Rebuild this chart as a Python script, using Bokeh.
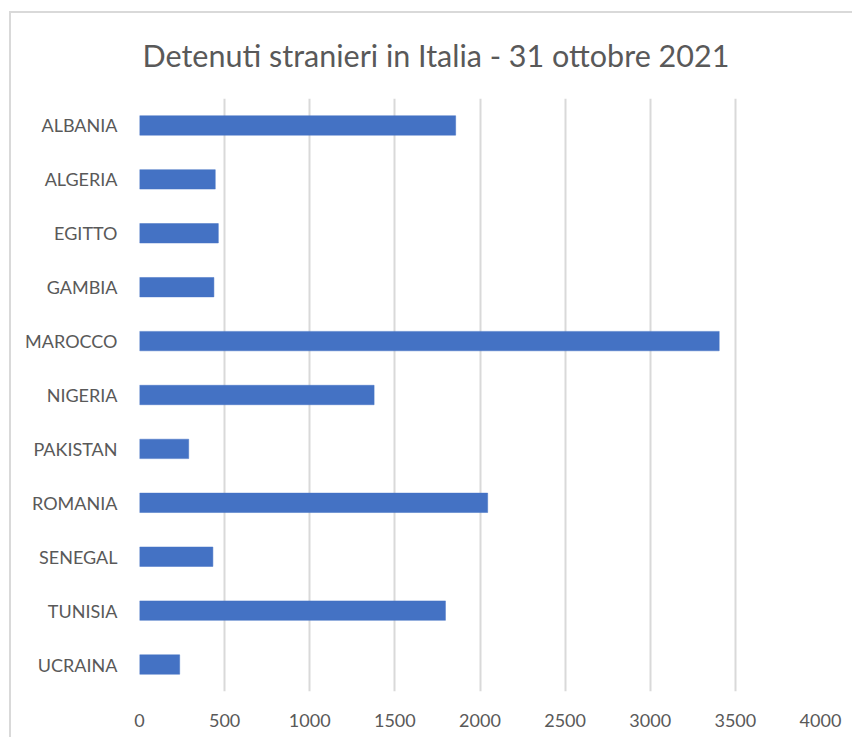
from bokeh.plotting import figure
from bokeh.models import FactorRange, Range1d, FixedTicker, ColumnDataSource
from bokeh.embed import file_html
from bokeh.resources import INLINE

countries = ["ALBANIA", "ALGERIA", "EGITTO", "GAMBIA", "MAROCCO", "NIGERIA",
             "PAKISTAN", "ROMANIA", "SENEGAL", "TUNISIA", "UCRAINA"]
detenuti = [1857, 445, 463, 437, 3405, 1378, 289, 2045, 431, 1797, 236]
x_ticks = [0, 500, 1000, 1500, 2000, 2500, 3000, 3500, 4000]
title_text = "Detenuti stranieri in Italia - 31 ottobre 2021"

src = ColumnDataSource(dict(country=countries, value=detenuti))

p = figure(width=843, height=726, output_backend="svg", toolbar_location=None,
           y_range=FactorRange(*list(reversed(countries))),
           x_range=Range1d(0, 4000),
           min_border_left=128, min_border_right=34, min_border_top=84,
           min_border_bottom=48)

p.hbar(y="country", right="value", left=0, height=0.36, source=src,
       fill_color="#4472C4", line_color="#4472C4", line_width=0.5)

p.title.text = title_text
p.title.text_font = "Lato"
p.title.text_font_size = "30.5px"
p.title.text_font_style = "normal"
p.title.text_color = "#595959"
p.title.align = "left"
p.title.vertical_align = "top"
p.title.offset = 3
p.title.standoff = 47

p.outline_line_color = None
p.background_fill_color = "white"
p.border_fill_color = "white"

p.xaxis.ticker = FixedTicker(ticks=x_ticks)
p.xgrid.ticker = FixedTicker(ticks=x_ticks)
p.xgrid.grid_line_color = "#d9d9d9"
p.xgrid.grid_line_width = 2
p.ygrid.grid_line_color = None

for ax in (p.xaxis[0], p.yaxis[0]):
    ax.axis_line_color = None
    ax.major_tick_line_color = None
    ax.minor_tick_line_color = None
    ax.major_label_text_font = "Lato"
    ax.major_label_text_font_size = "18px"
    ax.major_label_text_color = "#595959"

p.xaxis.major_label_standoff = 16
p.yaxis.major_label_standoff = 16

p.styles = {"margin-left": "9px", "margin-top": "11px",
            "border-top": "2px solid #d9d9d9", "border-left": "2px solid #d9d9d9"}

open("out.html", "w").write(file_html(p, INLINE))
